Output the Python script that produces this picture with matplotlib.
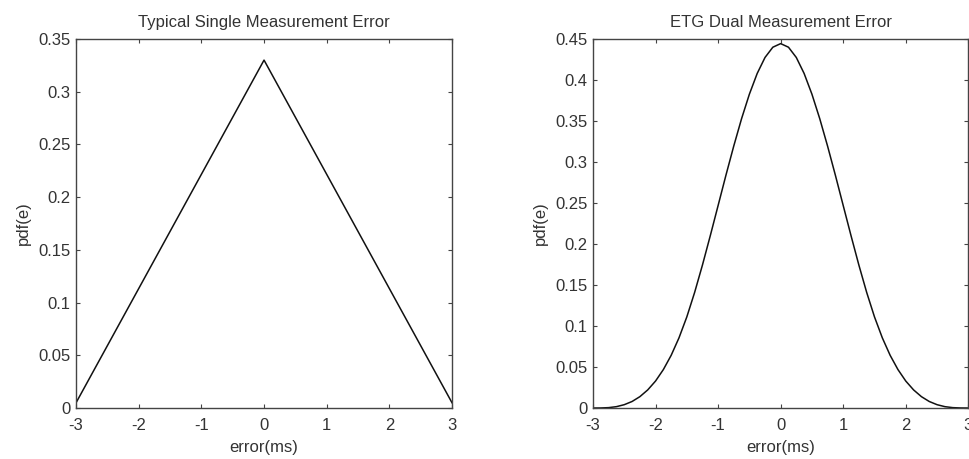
import matplotlib
matplotlib.use("Agg")
import matplotlib.pyplot as plt

plt.rcParams['font.family'] = ['Liberation Sans', 'DejaVu Sans']

# Left panel: triangular single-measurement error
single_x = [-3.0, 0.0, 3.0]
single_y = [0.005, 0.33, 0.005]

dual_x = [-3.0, -2.875, -2.75, -2.625, -2.5, -2.375, -2.25, -2.125, -2.0, -1.875, -1.75, -1.625,
          -1.5, -1.375, -1.25, -1.125, -1.0, -0.875, -0.75, -0.625, -0.5, -0.375, -0.25, -0.125,
          0.0,
          0.125, 0.25, 0.375, 0.5, 0.625, 0.75, 0.875, 1.0, 1.125, 1.25, 1.375, 1.5,
          1.625, 1.75, 1.875, 2.0, 2.125, 2.25, 2.375, 2.5, 2.625, 2.75, 2.875, 3.0]
dual_y = [0.0, 0.0001, 0.0005, 0.0017, 0.0041, 0.0080, 0.0139, 0.0221, 0.0329, 0.0469, 0.0643, 0.0856,
          0.1111, 0.1410, 0.1744, 0.2101, 0.2469, 0.2838, 0.3194, 0.3528, 0.3827, 0.4080, 0.4275, 0.4400,
          0.4444,
          0.4400, 0.4275, 0.4080, 0.3827, 0.3528, 0.3194, 0.2838, 0.2469, 0.2101, 0.1744, 0.1410, 0.1111,
          0.0856, 0.0643, 0.0469, 0.0329, 0.0221, 0.0139, 0.0080, 0.0041, 0.0017, 0.0005, 0.0001, 0.0]

left_yticks = [0, 0.05, 0.1, 0.15, 0.2, 0.25, 0.3, 0.35]
left_ylabels = ['0', '0.05', '0.1', '0.15', '0.2', '0.25', '0.3', '0.35']
right_yticks = [0, 0.05, 0.1, 0.15, 0.2, 0.25, 0.3, 0.35, 0.4, 0.45]
right_ylabels = ['0', '0.05', '0.1', '0.15', '0.2', '0.25', '0.3', '0.35', '0.4', '0.45']
xticks = [-3, -2, -1, 0, 1, 2, 3]

fig = plt.figure(figsize=(9.7, 4.59), dpi=100)
ax1 = fig.add_axes([0.0784, 0.111, 0.3876, 0.804])
ax2 = fig.add_axes([0.6113, 0.111, 0.387, 0.804])

txt = '#333333'
fs = 12
for ax, x, y, yt, yl, title, ymax in [
        (ax1, single_x, single_y, left_yticks, left_ylabels, 'Typical Single Measurement Error', 0.35),
        (ax2, dual_x, dual_y, right_yticks, right_ylabels, 'ETG Dual Measurement Error', 0.45)]:
    ax.plot(x, y, color='#111111', linewidth=1.1)
    ax.set_xlim(-3, 3)
    ax.set_ylim(0, ymax)
    ax.set_xticks(xticks)
    ax.set_xticklabels([str(t) for t in xticks])
    ax.set_yticks(yt)
    ax.set_yticklabels(yl)
    ax.tick_params(direction='in', top=True, right=True, length=3, width=0.8,
                   labelsize=fs, colors='#444444', labelcolor=txt)
    ax.tick_params(axis='x', pad=7)
    ax.tick_params(axis='y', pad=4)
    for s in ax.spines.values():
        s.set_color('#444444')
        s.set_linewidth(1.0)
    ax.set_title(title, fontsize=fs, color=txt, pad=9)
    ax.set_xlabel('error(ms)', fontsize=fs, color=txt, labelpad=5)
    ax.set_ylabel('pdf(e)', fontsize=fs, color=txt, labelpad=5)

fig.savefig('out.png', dpi=100)
